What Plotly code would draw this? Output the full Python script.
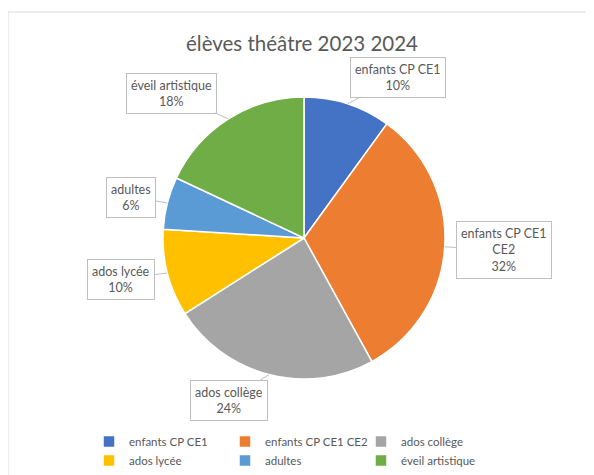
import math
import textwrap

import plotly.graph_objects as go

# data
categories = ["enfants CP CE1", "enfants CP CE1 CE2", "ados collège",
              "ados lycée", "adultes", "éveil artistique"]
eleves = [5, 16, 12, 5, 3, 9]
colors = ["#4472C4", "#ED7D31", "#A5A5A5", "#FFC000", "#5B9BD5", "#70AD47"]
title = "élèves théâtre 2023 2024"

# page geometry, in screenshot pixels (the page body adds an 8px margin)
OFF = 8
W, H = 594 - OFF, 475 - OFF
ML, MR = 60, 60
PW = W - ML - MR
CX, CY, R = 304, 238, 141

# centres of the callout boxes
label_xy = {
    "enfants CP CE1": (398, 77),
    "enfants CP CE1 CE2": (504, 250),
    "ados collège": (229, 400),
    "ados lycée": (121, 279),
    "adultes": (131, 197),
    "éveil artistique": (171, 93),
}

FONT = "Lato"
GREY_TXT = "#595959"


def px_x(x):
    return (x - OFF - ML) / PW


def px_y(y):
    return 1 - (y - OFF) / H


fig = go.Figure(
    go.Pie(
        labels=categories,
        values=eleves,
        sort=False,
        direction="clockwise",
        rotation=0,
        textinfo="none",
        hoverinfo="label+value+percent",
        marker=dict(colors=colors, line=dict(color="white", width=1.5)),
        domain=dict(x=[px_x(CX - R), px_x(CX + R)], y=[px_y(CY + R), px_y(CY - R)]),
    )
)

# callouts, tails point at the middle of each slice
total = sum(eleves)
cum = 0
annotations = []
for cat, v in zip(categories, eleves):
    mid = (cum + v / 2) / total * 2 * math.pi
    cum += v
    ex = CX + R * math.sin(mid)
    ey = CY - R * math.cos(mid)
    lx, ly = label_xy[cat]
    txt = "<br>".join(textwrap.wrap(cat, 16)) + "<br>%d%%" % round(v / total * 100)
    annotations.append(dict(
        x=px_x(ex), y=px_y(ey), xref="paper", yref="paper",
        ax=lx - ex, ay=ly - ey,
        text=txt, showarrow=True, arrowhead=0, arrowwidth=1,
        arrowcolor="#BFBFBF", standoff=0,
        bgcolor="white", bordercolor="#BFBFBF", borderwidth=1, borderpad=4,
        font=dict(family=FONT, size=12.5, color=GREY_TXT),
    ))

fig.update_layout(
    width=W, height=H,
    margin=dict(l=ML, r=MR, t=0, b=0),
    paper_bgcolor="white", plot_bgcolor="white",
    title=dict(text=title, x=(302 - OFF) / W, y=px_y(44), xanchor="center", yanchor="middle",
               font=dict(family=FONT, size=20.5, color=GREY_TXT)),
    annotations=annotations,
    legend=dict(orientation="h", x=px_x(89), y=px_y(427), xanchor="left", yanchor="top",
                entrywidth=91, font=dict(family=FONT, size=11.5, color=GREY_TXT),
                traceorder="normal"),
    shapes=[dict(type="rect", xref="paper", yref="paper",
                 x0=px_x(8), x1=px_x(594 + 10), y0=px_y(475 + 10), y1=px_y(12),
                 line=dict(color="#D9D9D9", width=1), layer="below")],
)

fig.write_html("out.html")
